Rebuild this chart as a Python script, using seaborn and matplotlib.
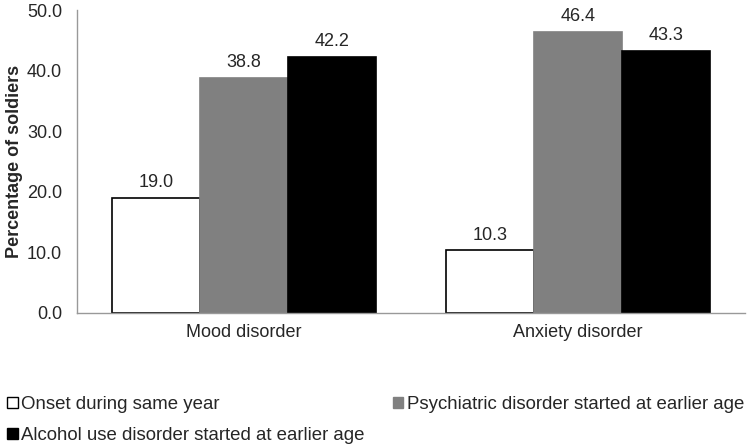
import pandas as pd
import matplotlib.pyplot as plt
import seaborn as sns

categories = ["Mood disorder", "Anxiety disorder"]
series = ["Onset during same year",
          "Psychiatric disorder started at earlier age",
          "Alcohol use disorder started at earlier age"]
onset_same_year = [19.0, 10.3]
psych_earlier = [38.8, 46.4]
alcohol_earlier = [42.2, 43.3]
colors = ["#ffffff", "#808080", "#000000"]
edges = ["#000000", "#808080", "#000000"]

rows = []
for s, vals in zip(series, [onset_same_year, psych_earlier, alcohol_earlier]):
    for c, v in zip(categories, vals):
        rows.append({"category": c, "group": s, "value": v})
df = pd.DataFrame(rows)

sns.set_style("white")
plt.rcParams['font.family'] = ['Liberation Sans', 'DejaVu Sans']

fig = plt.figure(figsize=(7.5, 4.45), dpi=100)
ax = fig.add_axes([0.103, 0.297, 0.89, 0.68])

sns.barplot(data=df, x="category", y="value", hue="group", hue_order=series,
            palette=colors, width=0.79, gap=0, saturation=1, ax=ax, legend=False)

for cont, ec in zip(ax.containers, edges):
    for bar in cont:
        bar.set_edgecolor(ec)
        bar.set_linewidth(1.2)
    ax.bar_label(cont, fmt="%.1f", padding=5, fontsize=13)

ax.set_ylim(0, 50)
ax.set_yticks([0, 10, 20, 30, 40, 50])
ax.set_yticklabels([f"{t:.1f}" for t in [0, 10, 20, 30, 40, 50]], fontsize=13)
ax.tick_params(axis="x", labelsize=13, length=0, pad=8)
ax.tick_params(axis="y", length=0, pad=11)
ax.set_xlabel("")
ax.set_ylabel("Percentage of soldiers", fontsize=13, fontweight="bold", labelpad=3)
ax.set_xlim(-0.5, 1.5)

for side in ["top", "right"]:
    ax.spines[side].set_visible(False)
for side in ["left", "bottom"]:
    ax.spines[side].set_color("#999999")
    ax.spines[side].set_linewidth(1)

# legend fills column-first, so order items to get the reference's row layout
handles = [plt.Rectangle((0, 0), 1, 1, facecolor=c, edgecolor=e, linewidth=1)
           for c, e in zip(colors, edges)]
order = [0, 2, 1]
fig.legend([handles[i] for i in order], [series[i] for i in order],
           loc="lower left", bbox_to_anchor=(0.0, -0.014), ncol=2,
           frameon=False, fontsize=13.4, handlelength=0.55, handleheight=0.55,
           handletextpad=0.2, columnspacing=1.5, labelspacing=0.72,
           borderaxespad=0.1, borderpad=0.3)

fig.savefig("out.png", dpi=100)
